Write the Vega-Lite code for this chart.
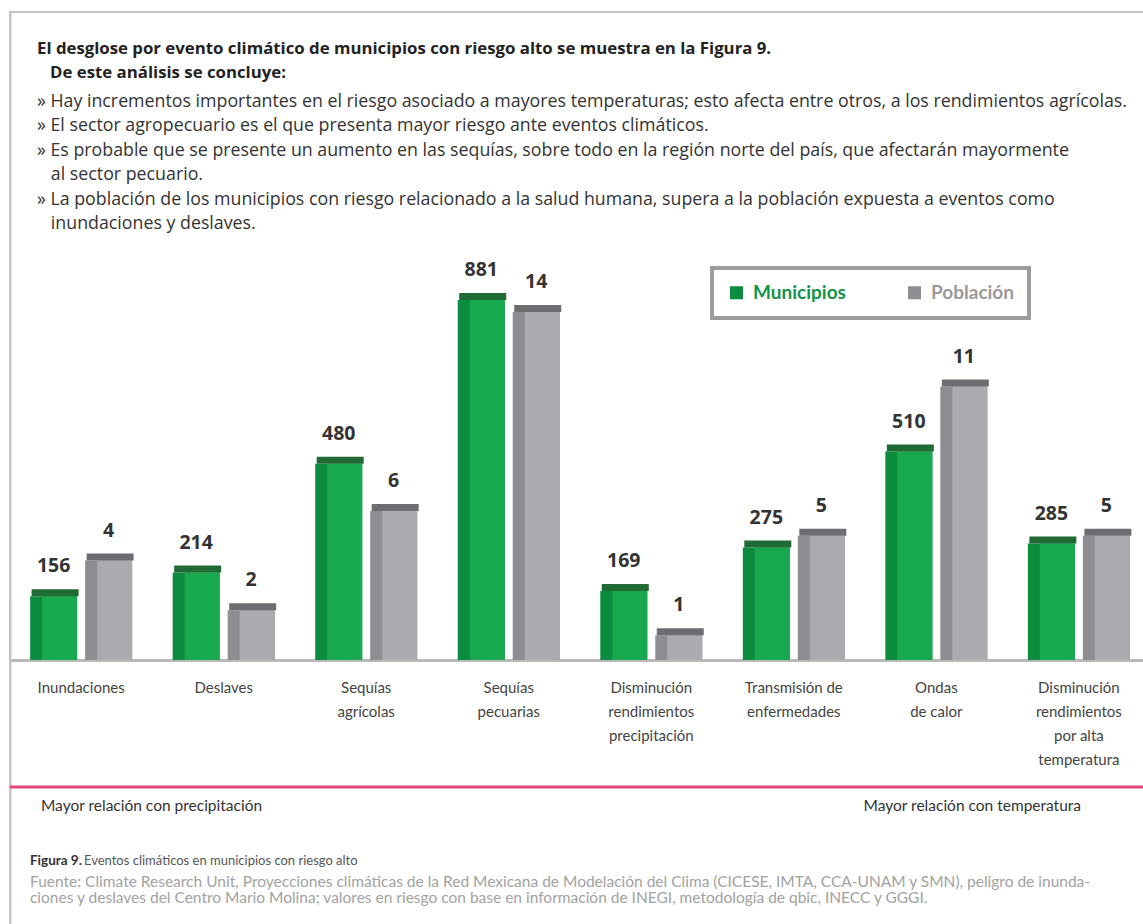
{
  "$schema": "https://vega.github.io/schema/vega-lite/v6.json",
  "autosize": "none",
  "width": 1140,
  "height": 914,
  "padding": {"left": 10, "top": 12, "right": 0, "bottom": 0},
  "background": "white",
  "config": {
    "view": {"stroke": "#c4c4c4", "strokeWidth": 2},
    "legend": {
      "orient": "none", "legendX": 702, "legendY": 256, "direction": "horizontal",
      "symbolType": "square", "symbolSize": 170, "symbolStrokeWidth": 0,
      "labelFont": "Lato", "labelFontSize": 19, "labelFontWeight": "bold",
      "labelOffset": 7, "columnPadding": 59, "padding": 15,
      "strokeColor": "#9c9c9c", "fillColor": "white"
    }
  },
  "title": {
    "text": ["El desglose por evento climático de municipios con riesgo alto se muestra en la Figura 9.", "\u200b\u00a0\u00a0\u00a0De este análisis se concluye:"],
    "subtitle": [
      "» Hay incrementos importantes en el riesgo asociado a mayores temperaturas; esto afecta entre otros, a los rendimientos agrícolas.",
      "» El sector agropecuario es el que presenta mayor riesgo ante eventos climáticos.",
      "» Es probable que se presente un aumento en las sequías, sobre todo en la región norte del país, que afectarán mayormente",
      "\u200b\u00a0\u00a0\u00a0al sector pecuario.",
      "» La población de los municipios con riesgo relacionado a la salud humana, supera a la población expuesta a eventos como",
      "\u200b\u00a0\u00a0\u00a0inundaciones y deslaves."
    ],
    "anchor": "start", "frame": "group", "orient": "top", "offset": -221, "dx": 27,
    "font": "Open Sans", "fontSize": 16.8, "fontWeight": "bold", "color": "#222", "lineHeight": 23.5,
    "subtitleFont": "Open Sans", "subtitleFontSize": 17.8, "subtitleColor": "#333", "subtitleLineHeight": 24.5, "subtitlePadding": 11
  },
  "data": {"values": [
    {"evento": "Inundaciones", "serie": "Municipios", "valor": 156},
    {"evento": "Deslaves", "serie": "Municipios", "valor": 214},
    {"evento": "Sequías agrícolas", "serie": "Municipios", "valor": 480},
    {"evento": "Sequías pecuarias", "serie": "Municipios", "valor": 881},
    {"evento": "Disminución rendimientos precipitación", "serie": "Municipios", "valor": 169},
    {"evento": "Transmisión de enfermedades", "serie": "Municipios", "valor": 275},
    {"evento": "Ondas de calor", "serie": "Municipios", "valor": 510},
    {"evento": "Disminución rendimientos por alta temperatura", "serie": "Municipios", "valor": 285},
    {"evento": "Inundaciones", "serie": "Población", "valor": 4},
    {"evento": "Deslaves", "serie": "Población", "valor": 2},
    {"evento": "Sequías agrícolas", "serie": "Población", "valor": 6},
    {"evento": "Sequías pecuarias", "serie": "Población", "valor": 14},
    {"evento": "Disminución rendimientos precipitación", "serie": "Población", "valor": 1},
    {"evento": "Transmisión de enfermedades", "serie": "Población", "valor": 5},
    {"evento": "Ondas de calor", "serie": "Población", "valor": 11},
    {"evento": "Disminución rendimientos por alta temperatura", "serie": "Población", "valor": 5}
  ]},
  "resolve": {"scale": {"y": "independent"}},
  "layer": [
    {
      "layer": [
        {
          "transform": [{"filter": "datum.serie === 'Municipios'"}],
          "encoding": {
            "x": {
              "field": "evento", "type": "nominal",
              "scale": {"domain": ["Inundaciones", "Deslaves", "Sequías agrícolas", "Sequías pecuarias", "Disminución rendimientos precipitación", "Transmisión de enfermedades", "Ondas de calor", "Disminución rendimientos por alta temperatura"], "paddingInner": 0.282, "paddingOuter": 0.14},
              "axis": {
                "orient": "bottom", "offset": -266, "title": null, "ticks": false,
                "domainColor": "#b9b9b9", "domainWidth": 3, "labelAngle": 0, "labelPadding": 20,
                "labelBaseline": "top", "labelLineHeight": 24, "labelFont": "Lato", "labelFontSize": 15, "labelColor": "#444",
                "labelOverlap": false, "labelBound": false, "labelLimit": 0,
                "labelExpr": "datum.value == 'Sequías agrícolas' ? ['Sequías','agrícolas'] : datum.value == 'Sequías pecuarias' ? ['Sequías','pecuarias'] : datum.value == 'Disminución rendimientos precipitación' ? ['Disminución','rendimientos','precipitación'] : datum.value == 'Transmisión de enfermedades' ? ['Transmisión de','enfermedades'] : datum.value == 'Ondas de calor' ? ['Ondas','de calor'] : datum.value == 'Disminución rendimientos por alta temperatura' ? ['Disminución','rendimientos','por alta','temperatura'] : datum.label"
              }
            },
            "y": {"field": "valor", "type": "quantitative", "scale": {"domain": [-651, 1585.8], "nice": false, "zero": false},
              "axis": {"domain": true, "domainColor": "#c4c4c4", "domainWidth": 2, "ticks": false, "labels": false, "grid": false, "title": null}}
          },
          "layer": [
            {
              "mark": {"type": "bar", "width": 47, "xOffset": -27.5},
              "encoding": {
                "y2": {"datum": 0},
                "color": {"field": "serie", "type": "nominal", "scale": {"domain": ["Municipios", "Población"], "range": ["#0d8c40", "#8d8e91"]},
                  "legend": {"title": null, "encode": {"legend": {"update": {"strokeWidth": {"value": 4}}}, "labels": {"update": {"fill": {"signal": "datum.label === 'Municipios' ? '#12924a' : '#9a9a9a'"}}}}}}
              }
            },
            {"mark": {"type": "bar", "width": 35, "xOffset": -21.5, "color": "#18a84d"}, "encoding": {"y2": {"datum": 0}}},
            {"mark": {"type": "tick", "size": 47, "thickness": 7, "opacity": 1, "xOffset": -26, "yOffset": -3.5, "color": "#1f6a35"}},
            {"mark": {"type": "text", "xOffset": -27.5, "dy": -30, "font": "Open Sans", "fontSize": 19.5, "fontWeight": "bold", "color": "#333"}, "encoding": {"text": {"field": "valor", "type": "quantitative"}}}
          ]
        },
        {
          "data": {"values": [{}]},
          "mark": {"type": "rule", "color": "#e0467a", "strokeWidth": 3, "xOffset": 22},
          "encoding": {"y": {"datum": -311, "type": "quantitative"}}
        },
        {
          "data": {"values": [{}]},
          "mark": {"type": "text", "text": "Mayor relación con precipitación", "align": "left", "dx": 11, "font": "Lato", "fontSize": 15.5, "color": "#333"},
          "encoding": {"x": {"datum": "Inundaciones", "bandPosition": 0}, "y": {"datum": -357, "type": "quantitative"}}
        },
        {
          "data": {"values": [{}]},
          "mark": {"type": "text", "text": "Mayor relación con temperatura", "align": "right", "dx": -49, "font": "Lato", "fontSize": 15.5, "color": "#333"},
          "encoding": {"x": {"datum": "Disminución rendimientos por alta temperatura", "bandPosition": 1}, "y": {"datum": -357, "type": "quantitative"}}
        },
        {
          "data": {"values": [{}]},
          "mark": {"type": "text", "text": "Figura 9.", "align": "left", "dx": 0, "font": "Lato", "fontSize": 13.5, "fontWeight": "bold", "color": "#333"},
          "encoding": {"x": {"datum": "Inundaciones", "bandPosition": 0}, "y": {"datum": -492, "type": "quantitative"}}
        },
        {
          "data": {"values": [{}]},
          "mark": {"type": "text", "text": "Eventos climáticos en municipios con riesgo alto", "align": "left", "dx": 54, "font": "Lato", "fontSize": 13, "color": "#555"},
          "encoding": {"x": {"datum": "Inundaciones", "bandPosition": 0}, "y": {"datum": -492, "type": "quantitative"}}
        },
        {
          "data": {"values": [{}]},
          "mark": {"type": "text", "text": ["Fuente: Climate Research Unit, Proyecciones climáticas de la Red Mexicana de Modelación del Clima (CICESE, IMTA, CCA-UNAM y SMN),  peligro de inunda-", "ciones y deslaves del Centro Mario Molina; valores en riesgo con base en información de INEGI, metodología de qbic, INECC y GGGI."], "align": "left", "baseline": "top", "lineHeight": 16.5, "dx": 0, "font": "Lato", "fontSize": 15.5, "color": "#a2a2a2"},
          "encoding": {"x": {"datum": "Inundaciones", "bandPosition": 0}, "y": {"datum": -526, "type": "quantitative"}}
        }
      ]
    },
    {
      "transform": [{"filter": "datum.serie === 'Población'"}],
      "encoding": {
        "x": {"field": "evento", "type": "nominal"},
        "y": {"field": "valor", "type": "quantitative", "scale": {"domain": [-10.70, 26.07], "nice": false, "zero": false}, "axis": null}
      },
      "layer": [
        {
          "mark": {"type": "bar", "width": 47, "xOffset": 27.5},
          "encoding": {
            "y2": {"datum": 0},
            "color": {"field": "serie", "type": "nominal", "scale": {"domain": ["Municipios", "Población"], "range": ["#0d8c40", "#8d8e91"]},
              "legend": {"title": null, "encode": {"legend": {"update": {"strokeWidth": {"value": 4}}}, "labels": {"update": {"fill": {"signal": "datum.label === 'Municipios' ? '#12924a' : '#9a9a9a'"}}}}}}
          }
        },
        {"mark": {"type": "bar", "width": 35, "xOffset": 33.5, "color": "#aaabae"}, "encoding": {"y2": {"datum": 0}}},
        {"mark": {"type": "tick", "size": 47, "thickness": 7, "opacity": 1, "xOffset": 29, "yOffset": -3.5, "color": "#6c6d70"}},
        {"mark": {"type": "text", "xOffset": 27.5, "dy": -30, "font": "Open Sans", "fontSize": 19.5, "fontWeight": "bold", "color": "#333"}, "encoding": {"text": {"field": "valor", "type": "quantitative"}}}
      ]
    }
  ]
}
